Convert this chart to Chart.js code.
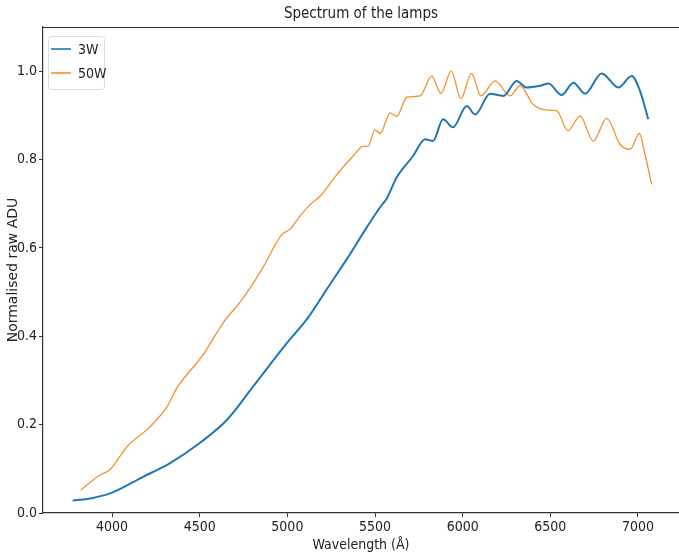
<!DOCTYPE html>
<html>
<head>
<meta charset="utf-8">
<script src="https://cdn.jsdelivr.net/npm/chart.js@4"></script>
<style>
  html, body { margin: 0; padding: 0; background: #fff; }
  #wrap { width: 679px; height: 556px; }
</style>
</head>
<body>
<div id="wrap"><canvas id="lampChart" width="679" height="556"></canvas></div>
<script>
// values
const wave3W = [3775, 3891, 4000, 4177, 4331, 4502, 4656, 4804, 4998, 5118, 5224, 5338, 5452, 5529, 5567, 5624, 5717, 5786, 5831, 5888, 5945, 6023, 6071, 6156, 6232, 6308, 6365, 6441, 6489, 6565, 6631, 6698, 6793, 6888, 6964, 7012, 7059];
const adu3W  = [0.028, 0.034, 0.046, 0.082, 0.113, 0.159, 0.211, 0.286, 0.385, 0.442, 0.506, 0.574, 0.646, 0.692, 0.712, 0.760, 0.808, 0.846, 0.842, 0.891, 0.873, 0.921, 0.902, 0.949, 0.944, 0.978, 0.963, 0.967, 0.972, 0.946, 0.974, 0.949, 0.995, 0.963, 0.989, 0.955, 0.891];

const wave50W = [3821, 3931, 3988, 4085, 4216, 4313, 4370, 4519, 4633, 4741, 4854, 4968, 5015, 5072, 5129, 5186, 5282, 5375, 5432, 5460, 5500, 5529, 5586, 5624, 5681, 5757, 5823, 5876, 5935, 5990, 6050, 6104, 6185, 6270, 6327, 6401, 6480, 6537, 6601, 6670, 6744, 6822, 6898, 6955, 7008, 7040, 7078];
const adu50W  = [0.052, 0.086, 0.098, 0.150, 0.195, 0.240, 0.283, 0.358, 0.430, 0.483, 0.551, 0.630, 0.642, 0.672, 0.698, 0.717, 0.766, 0.808, 0.830, 0.830, 0.867, 0.859, 0.905, 0.898, 0.941, 0.944, 0.989, 0.950, 1.000, 0.938, 0.995, 0.944, 0.978, 0.944, 0.967, 0.925, 0.912, 0.910, 0.865, 0.899, 0.842, 0.893, 0.834, 0.823, 0.859, 0.812, 0.744];

const xTicks = [4000, 4500, 5000, 5500, 6000, 6500, 7000];
const yTicks = [0.0, 0.2, 0.4, 0.6, 0.8, 1.0];

const narrow = '"Liberation Sans Narrow", "DejaVu Sans Condensed", "Arial Narrow", sans-serif';

function pts(xs, ys){
  return xs.map((x, i) => ({ x: x, y: ys[i] }));
}

// title, top spine and in-plot legend, matplotlib style
const decor = {
  id: "decor",
  afterDraw(chart){
    const { ctx, chartArea: a } = chart;
    ctx.save();
    ctx.strokeStyle = "#333";
    ctx.lineWidth = 1.2;
    ctx.beginPath();
    ctx.moveTo(a.left, a.top + 0.5);
    ctx.lineTo(a.right, a.top + 0.5);
    ctx.stroke();

    ctx.fillStyle = "#222";
    ctx.font = "15px " + narrow;
    ctx.textAlign = "center";
    ctx.textBaseline = "middle";
    ctx.fillText("Spectrum of the lamps", (a.left + a.right) / 2, 14);

    // legend box
    const bx = 48, by = 36, bw = 56, bh = 53;
    ctx.fillStyle = "rgba(255,255,255,0.8)";
    ctx.strokeStyle = "#ddd";
    ctx.lineWidth = 1;
    ctx.beginPath();
    ctx.roundRect(bx + 0.5, by + 0.5, bw, bh, 3);
    ctx.fill();
    ctx.stroke();
    ctx.font = "14px " + narrow;
    ctx.textAlign = "left";
    chart.data.datasets.forEach((ds, i) => {
      const y = 49 + i * 24;
      ctx.strokeStyle = ds.borderColor;
      ctx.lineWidth = 1.6;
      ctx.beginPath();
      ctx.moveTo(51, y);
      ctx.lineTo(71, y);
      ctx.stroke();
      ctx.fillStyle = "#222";
      ctx.fillText(ds.label, 78, y + 1);
    });
    ctx.restore();
  }
};

const ctx = document.getElementById("lampChart").getContext("2d");
new Chart(ctx, {
  type: "line",
  data: {
    datasets: [
      {
        label: "3W",
        data: pts(wave3W, adu3W),
        borderColor: "#1f77b4",
        borderWidth: 2,
        pointRadius: 0,
        cubicInterpolationMode: "monotone",
        fill: false
      },
      {
        label: "50W",
        data: pts(wave50W, adu50W),
        borderColor: "#f39030",
        borderWidth: 1.3,
        pointRadius: 0,
        cubicInterpolationMode: "monotone",
        fill: false
      }
    ]
  },
  options: {
    responsive: false,
    animation: false,
    layout: { padding: { top: 27, right: 0, left: 0, bottom: 0 } },
    plugins: {
      legend: { display: false },
      title: { display: false },
      tooltip: { enabled: false }
    },
    scales: {
      x: {
        type: "linear",
        min: 3606,
        max: 7234,
        afterFit(s){ s.height = 43; },
        afterBuildTicks(s){ s.ticks = xTicks.map(v => ({ value: v })); },
        grid: { drawOnChartArea: false, drawTicks: true, tickLength: 4, color: "#333" },
        border: { display: true, color: "#333", width: 1.2 },
        ticks: {
          color: "#222",
          font: { family: narrow, size: 14 },
          padding: 2,
          maxRotation: 0,
          callback: v => String(v)
        },
        title: {
          display: true,
          text: "Wavelength (Å)",
          color: "#222",
          font: { family: narrow, size: 14 },
          padding: { top: 0, bottom: 2 }
        }
      },
      y: {
        min: 0,
        max: 1.1,
        afterFit(s){ s.width = 43; },
        afterBuildTicks(s){ s.ticks = yTicks.map(v => ({ value: v })); },
        grid: { drawOnChartArea: false, drawTicks: true, tickLength: 4, color: "#333" },
        border: { display: true, color: "#333", width: 1.2 },
        ticks: {
          color: "#222",
          font: { family: narrow, size: 14 },
          padding: 2,
          callback: v => Number(v).toFixed(1)
        },
        title: {
          display: true,
          text: "Normalised raw ADU",
          color: "#222",
          font: { family: "DejaVu Sans", size: 14 },
          padding: { top: 5, bottom: 0 }
        }
      }
    }
  },
  plugins: [decor]
});
</script>
</body>
</html>
